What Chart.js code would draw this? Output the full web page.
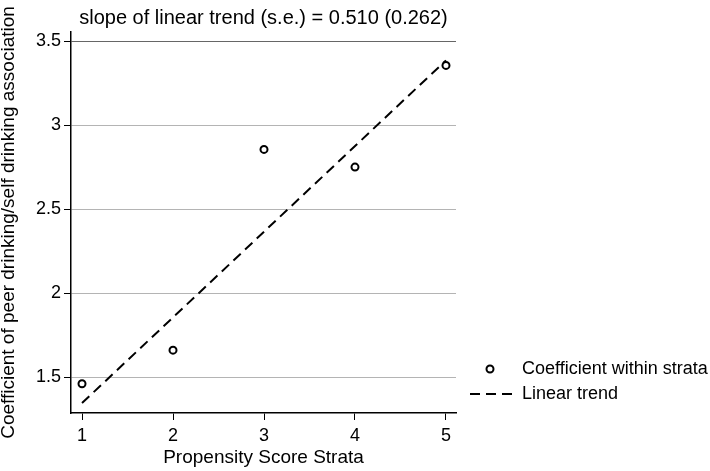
<!DOCTYPE html>
<html>
<head>
<meta charset="utf-8">
<script src="https://cdn.jsdelivr.net/npm/chart.js@4"></script>
<style>
    body { margin: 0; background: #fff; }
    #wrap { width: 710px; height: 471px; }
</style>
</head>
<body>
<div id="wrap"><canvas id="trendChart" width="710" height="471"></canvas></div>
<script>
// Strata and estimated coefficients
const strata = [1, 2, 3, 4, 5];
const coefficients = [1.46, 1.66, 2.855, 2.75, 3.355];

// Fitted linear trend (end points)
const trendX = [1, 5];
const trendY = [1.345, 3.385];

const xTickValues = [1, 2, 3, 4, 5];
const yTickValues = [1.5, 2, 2.5, 3, 3.5];

const titleText = 'slope of linear trend (s.e.) = 0.510 (0.262)';
const fontFamily = "'Liberation Sans', Arial, sans-serif";

// Title centred over plot area + legend at lower right
const extrasPlugin = {
    id: 'extras',
    afterDraw(chart) {
        const ctx = chart.ctx;
        const area = chart.chartArea;
        ctx.save();
        ctx.fillStyle = '#000';
        ctx.font = `20px ${fontFamily}`;
        ctx.textAlign = 'center';
        ctx.textBaseline = 'middle';
        ctx.fillText(titleText, (area.left + area.right) / 2, 18);

        // legend
        const items = chart.data.datasets;
        const rows = [369, 394];
        ctx.textAlign = 'left';
        ctx.font = `18px ${fontFamily}`;
        items.forEach((ds, i) => {
            const y = rows[i];
            if (ds.showLine) {
                ctx.strokeStyle = '#000';
                ctx.lineWidth = 2;
                ctx.setLineDash(ds.borderDash);
                ctx.beginPath();
                ctx.moveTo(470, y);
                ctx.lineTo(513, y);
                ctx.stroke();
                ctx.setLineDash([]);
            } else {
                ctx.strokeStyle = '#000';
                ctx.lineWidth = 2;
                ctx.fillStyle = '#fff';
                ctx.beginPath();
                ctx.arc(490, y, 3.5, 0, Math.PI * 2);
                ctx.fill();
                ctx.stroke();
            }
            ctx.fillStyle = '#000';
            ctx.fillText(ds.label, 522, y);
        });
        ctx.restore();
    }
};

new Chart(document.getElementById('trendChart').getContext('2d'), {
    type: 'scatter',
    data: {
        datasets: [{
            label: 'Coefficient within strata',
            data: strata.map((s, i) => ({ x: s, y: coefficients[i] })),
            pointRadius: 3.5,
            pointBorderWidth: 2,
            pointBorderColor: '#000',
            pointBackgroundColor: '#fff',
            showLine: false
        }, {
            label: 'Linear trend',
            data: trendX.map((x, i) => ({ x: x, y: trendY[i] })),
            showLine: true,
            borderColor: '#000',
            borderWidth: 2,
            borderDash: [10, 6],
            pointRadius: 0
        }]
    },
    options: {
        responsive: false,
        animation: false,
        layout: { padding: { top: 32, right: 254, left: 0, bottom: 0 } },
        scales: {
            x: {
                type: 'linear',
                min: 0.879,
                max: 5.11,
                afterBuildTicks: axis => { axis.ticks = xTickValues.map(v => ({ value: v })); },
                afterFit: scale => { scale.height = 58; },
                grid: { drawOnChartArea: false, drawTicks: true, tickLength: 7, tickColor: '#000', tickWidth: 1 },
                border: { display: true, color: '#000', width: 1.5 },
                ticks: { color: '#000', font: { family: fontFamily, size: 18 }, padding: 5, maxRotation: 0 },
                title: {
                    display: true,
                    text: 'Propensity Score Strata',
                    color: '#000',
                    font: { family: fontFamily, size: 19 },
                    padding: { top: 0, bottom: 2 }
                }
            },
            y: {
                type: 'linear',
                min: 1.286,
                max: 3.554,
                afterBuildTicks: axis => { axis.ticks = yTickValues.map(v => ({ value: v })); },
                afterFit: scale => { scale.width = 71; },
                grid: {
                    drawTicks: true,
                    tickLength: 7,
                    tickColor: '#000',
                    color: ctx => (ctx.tick && ctx.tick.value === 3.5) ? '#666' : '#b4b4b4',
                    lineWidth: 1
                },
                border: { display: true, color: '#000', width: 1.5 },
                ticks: {
                    color: '#000',
                    font: { family: fontFamily, size: 18 },
                    padding: 3,
                    callback: v => String(v)
                },
                title: {
                    display: true,
                    text: 'Coefficient of peer drinking/self drinking association',
                    color: '#000',
                    font: { family: fontFamily, size: 19, lineHeight: 0.9 },
                    padding: { top: 0, bottom: 0 }
                }
            }
        },
        plugins: {
            legend: { display: false },
            tooltip: { enabled: false }
        }
    },
    plugins: [extrasPlugin]
});
</script>
</body>
</html>
